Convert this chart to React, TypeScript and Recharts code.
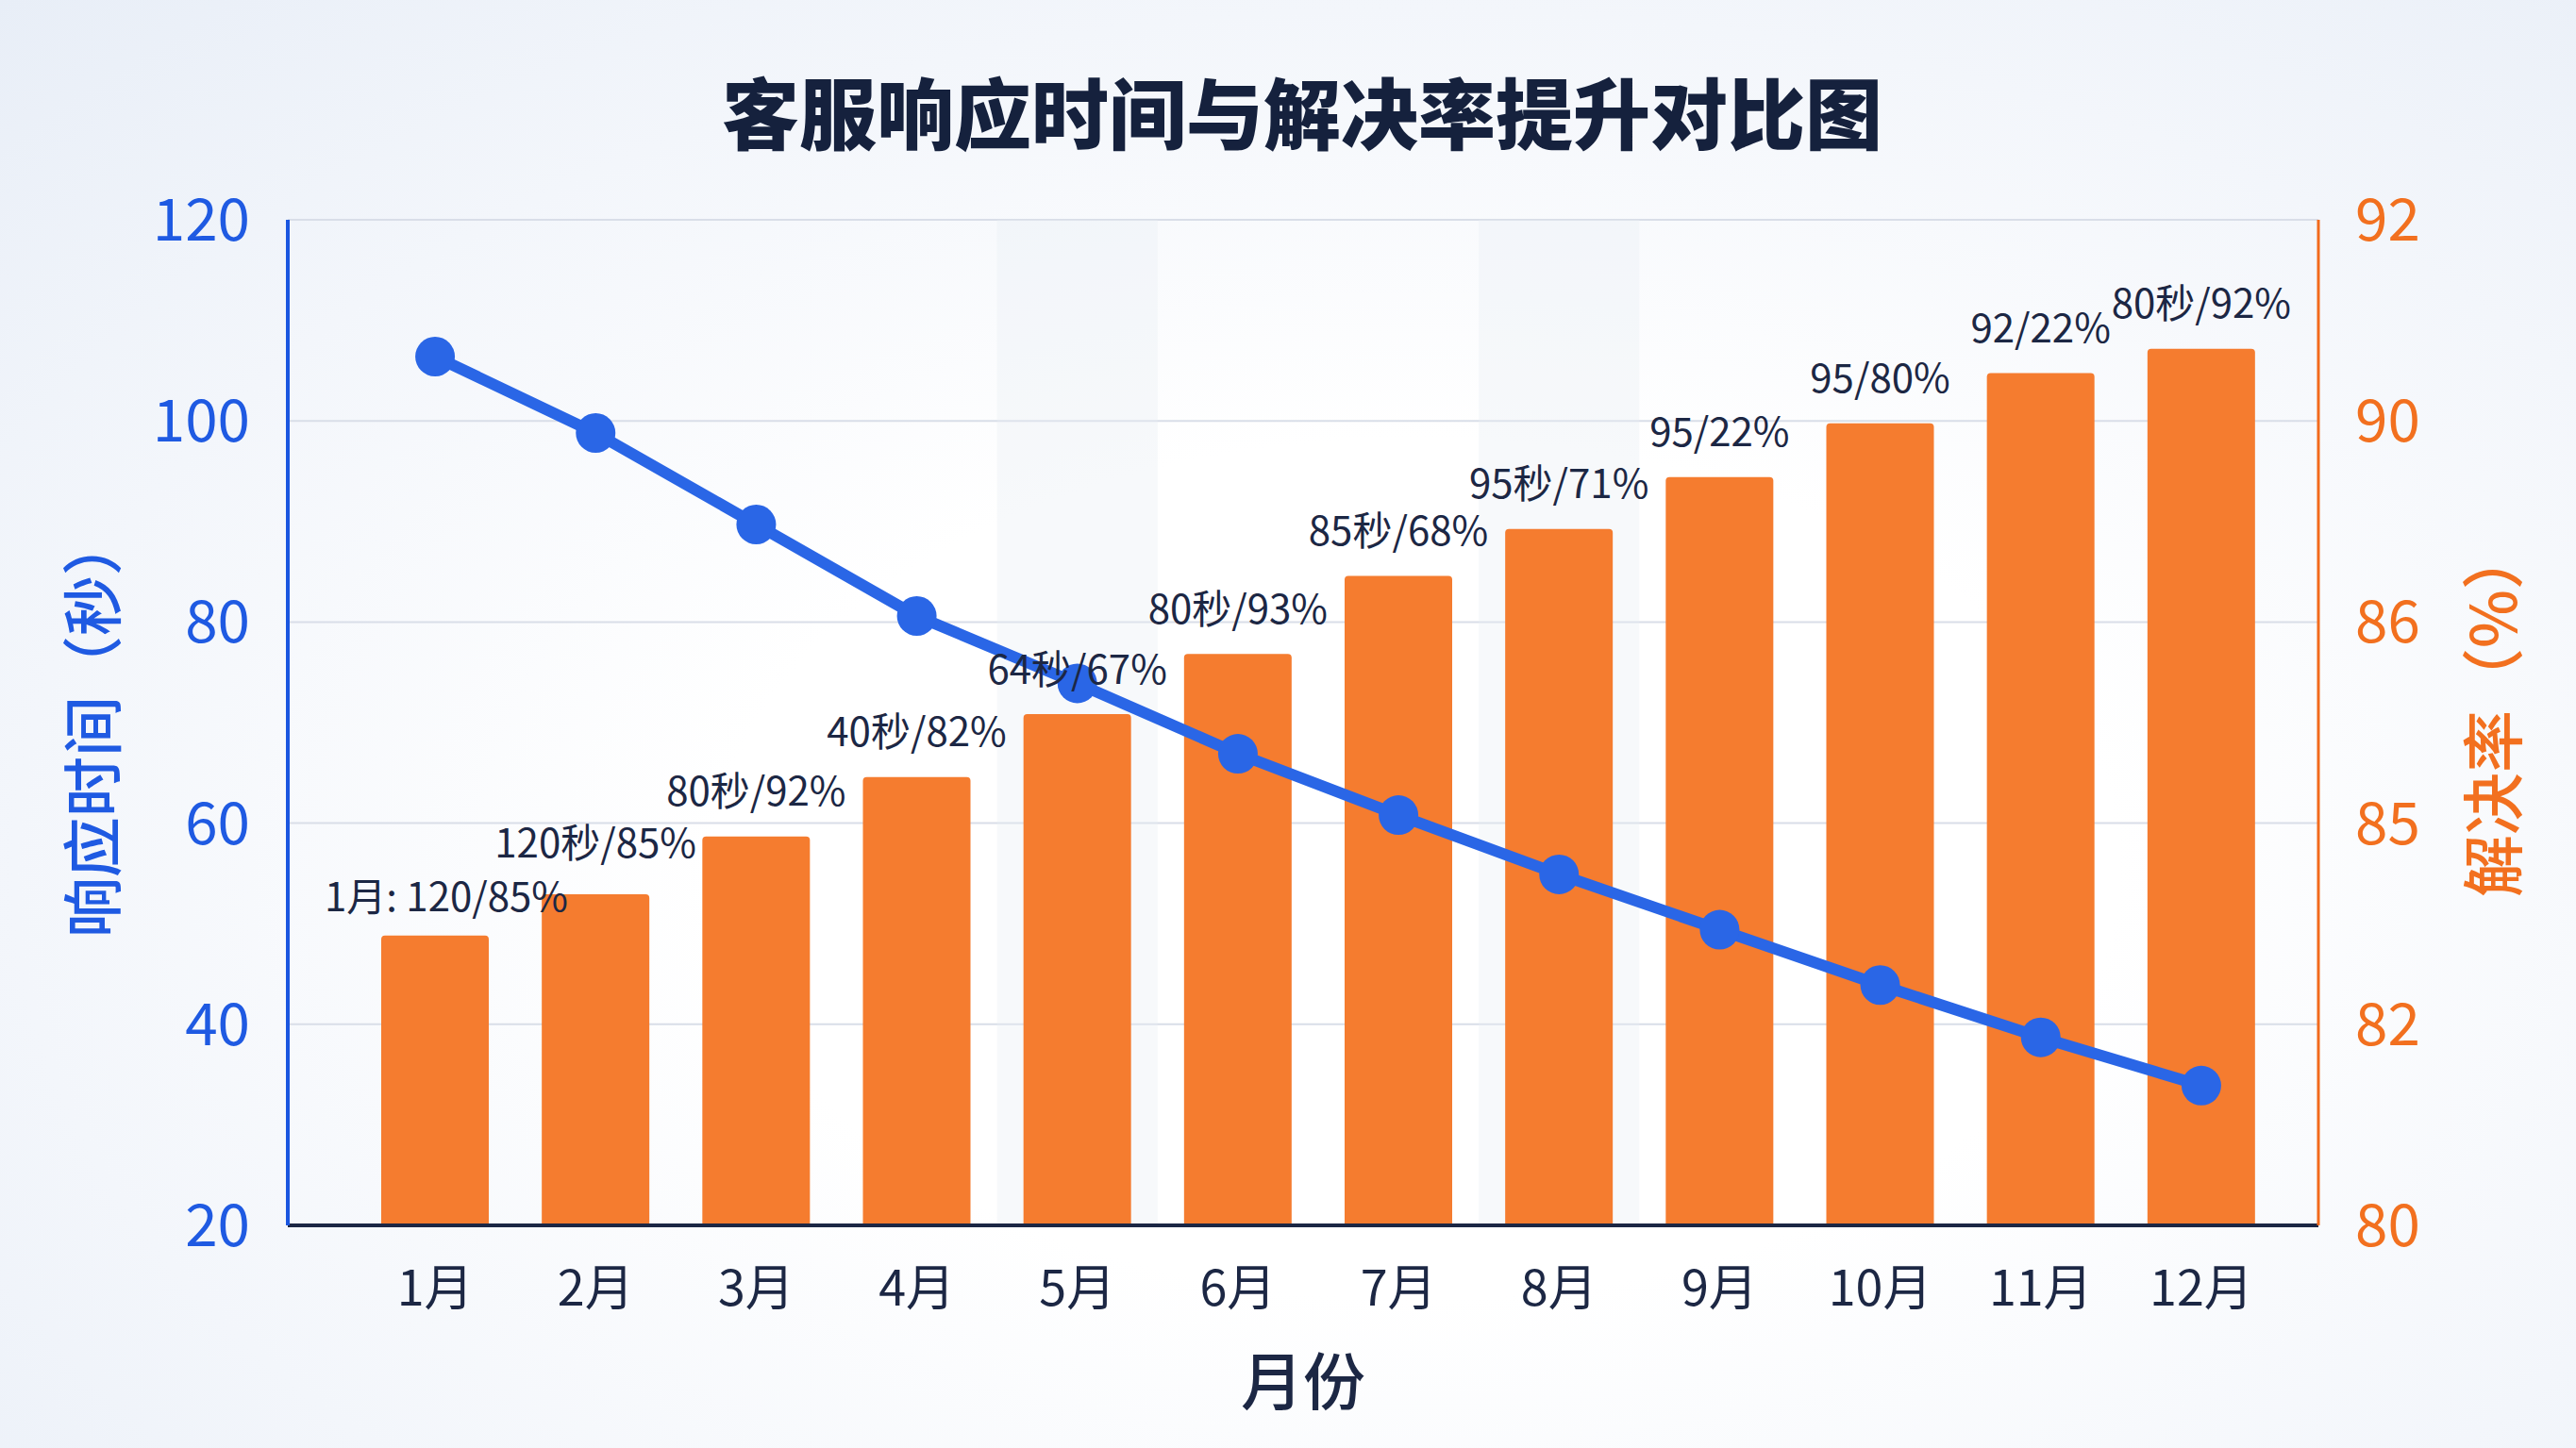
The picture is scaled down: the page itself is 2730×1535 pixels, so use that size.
import { ComposedChart, Bar, Line, XAxis, YAxis, CartesianGrid, LabelList, ReferenceArea } from 'recharts'

const months = ['1月', '2月', '3月', '4月', '5月', '6月', '7月', '8月', '9月', '10月', '11月', '12月']
// 响应时间（秒），左轴
const responseTime = [106.4, 98.8, 89.7, 80.6, 73.9, 66.9, 60.8, 54.9, 49.4, 43.9, 38.7, 33.9]
// 解决率（%），右轴
const resolveRate = [83.46, 83.95, 84.64, 85.35, 86.1, 86.82, 87.75, 88.31, 88.93, 89.57, 90.17, 90.46]
const barLabels = [
  '1月: 120/85%',
  '120秒/85%',
  '80秒/92%',
  '40秒/82%',
  '64秒/67%',
  '80秒/93%',
  '85秒/68%',
  '95秒/71%',
  '95/22%',
  '95/80%',
  '92/22%',
  '80秒/92%',
]
const leftTicks = [20, 40, 60, 80, 100, 120]
const rightTicks = [80, 82.4, 84.8, 87.2, 89.6, 92]
const rightTickLabels = ['80', '82', '85', '86', '90', '92']
const shadedMonths = ['5月', '8月']

const FONT = '"Noto Sans CJK SC", "Noto Sans", sans-serif'
const BLUE = '#2a66e6'
const ORANGE = '#f57c2f'
const NAVY = '#1c2744'

const data = months.map((m, i) => ({
  month: m,
  time: responseTime[i],
  rate: resolveRate[i],
  label: barLabels[i],
}))

function BarTopLabel(props: any) {
  const { x, y, width, value, index } = props
  // 前两个标签挨得很近，稍微错开一点
  const dx = index === 0 ? 12 : 0
  const lift = index === 0 ? 44 : index === 1 ? 58 : 51
  return (
    <text
      x={Number(x) + Number(width) / 2 + dx}
      y={Number(y) - lift}
      textAnchor="middle"
      dominantBaseline="central"
      style={{ fontSize: 42, fill: NAVY, fontFamily: FONT }}
    >
      {value}
    </text>
  )
}

export default function App() {
  return (
    <div
      style={{
        position: 'absolute',
        left: 0,
        top: 0,
        width: 2730,
        height: 1535,
        fontFamily: FONT,
        background:
          'radial-gradient(ellipse at 55% 60%, #ffffff 35%, #f3f6fb 70%, #e8eef7 100%)',
      }}
    >
      <ComposedChart
        width={2730}
        height={1535}
        data={data}
        margin={{ top: 233, right: 0, bottom: 0, left: 0 }}
      >
        <CartesianGrid yAxisId="left" vertical={false} stroke="#d9dee8" strokeWidth={2} />
        {shadedMonths.map((m) => (
          <ReferenceArea
            key={m}
            yAxisId="left"
            x1={m}
            x2={m}
            y1={20}
            y2={120}
            fill="#e9edf3"
            fillOpacity={0.35}
            stroke="none"
          />
        ))}
        <XAxis
          dataKey="month"
          height={236}
          padding={{ left: 71, right: 39 }}
          tickSize={0}
          tickMargin={48}
          axisLine={{ stroke: NAVY, strokeWidth: 4 }}
          tick={{ fontSize: 52, fill: NAVY, fontFamily: FONT }}
          interval={0}
        />
        <YAxis
          yAxisId="left"
          orientation="left"
          width={305}
          domain={[20, 120]}
          ticks={leftTicks}
          tickSize={0}
          tickMargin={40}
          axisLine={{ stroke: '#1a56e0', strokeWidth: 4 }}
          tick={{ fontSize: 62, fill: '#1f5ae2', fontFamily: FONT }}
        />
        <YAxis
          yAxisId="right"
          orientation="right"
          width={273}
          domain={[80, 92]}
          ticks={rightTicks}
          tickFormatter={(_v: number, i: number) => rightTickLabels[i]}
          tickSize={0}
          tickMargin={39}
          axisLine={{ stroke: '#f26a1c', strokeWidth: 3 }}
          tick={{ fontSize: 62, fill: '#f2701f', fontFamily: FONT }}
        />
        <Bar
          yAxisId="right"
          dataKey="rate"
          fill={ORANGE}
          barSize={114}
          radius={[4, 4, 0, 0]}
          isAnimationActive={false}
        >
          <LabelList dataKey="label" content={BarTopLabel} />
        </Bar>
        <Line
          yAxisId="left"
          dataKey="time"
          stroke={BLUE}
          strokeWidth={12}
          dot={{ r: 21, fill: BLUE, stroke: BLUE, strokeWidth: 0 }}
          isAnimationActive={false}
        />
      </ComposedChart>
      <svg
        width={2730}
        height={1535}
        style={{ position: 'absolute', left: 0, top: 0, pointerEvents: 'none' }}
      >
        <text
          x={1380}
          y={116}
          textAnchor="middle"
          dominantBaseline="central"
          style={{ fontSize: 82, fontWeight: 900, fill: '#15213d', fontFamily: FONT }}
        >
          客服响应时间与解决率提升对比图
        </text>
        <text
          x={94}
          y={770}
          transform="rotate(-90 94 770)"
          textAnchor="middle"
          dominantBaseline="central"
          style={{ fontSize: 64, fontWeight: 500, fill: '#1f5ae2', fontFamily: FONT }}
        >
          响应时间（秒）
        </text>
        <text
          x={2638}
          y={755}
          transform="rotate(-90 2638 755)"
          textAnchor="middle"
          dominantBaseline="central"
          style={{ fontSize: 66, fontWeight: 500, fill: '#f2701f', fontFamily: FONT }}
        >
          解决率（%）
        </text>
        <text
          x={1381}
          y={1460}
          textAnchor="middle"
          dominantBaseline="central"
          style={{ fontSize: 66, fontWeight: 500, fill: NAVY, fontFamily: FONT }}
        >
          月份
        </text>
      </svg>
    </div>
  )
}
